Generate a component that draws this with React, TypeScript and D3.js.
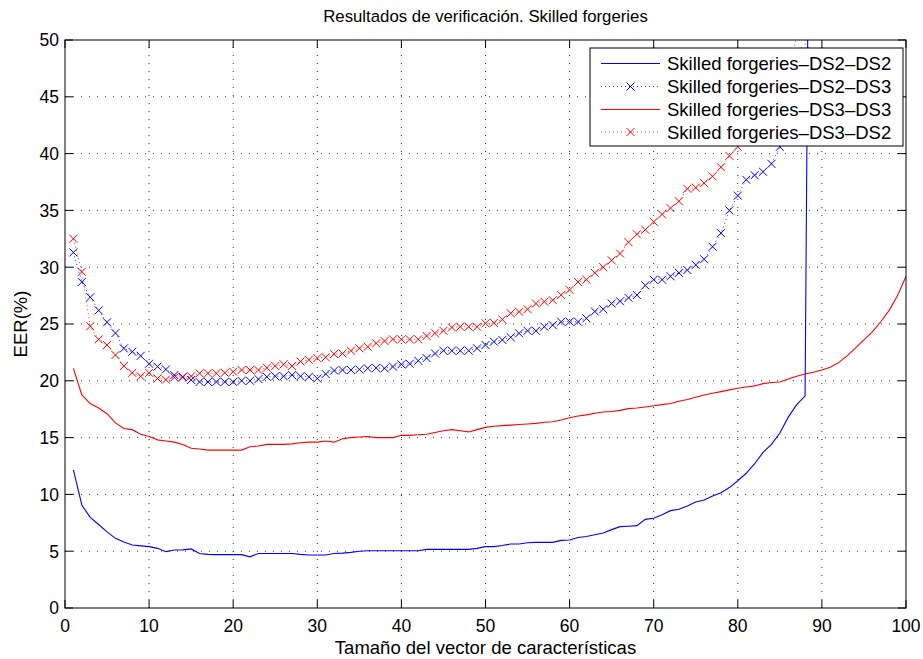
import React from 'react';
import * as d3 from 'd3';

const title = 'Resultados de verificación. Skilled forgeries';
const xLabel = 'Tamaño del vector de características';
const yLabel = 'EER(%)';
const xTicks = [0, 10, 20, 30, 40, 50, 60, 70, 80, 90, 100];
const yTicks = [0, 5, 10, 15, 20, 25, 30, 35, 40, 45, 50];
const seriesNames = [
  'Skilled forgeries\u2013DS2\u2013DS2',
  'Skilled forgeries\u2013DS2\u2013DS3',
  'Skilled forgeries\u2013DS3\u2013DS3',
  'Skilled forgeries\u2013DS3\u2013DS2',
];

// value for vector size 1, 2, 3, ...
const ds2ds2 = [
  12.15, 9.07, 7.98, 7.35, 6.7, 6.13, 5.8, 5.55, 5.47, 5.4,
  5.25, 4.96, 5.1, 5.12, 5.2, 4.8, 4.72, 4.7, 4.7, 4.7,
  4.7, 4.5, 4.8, 4.8, 4.8, 4.8, 4.8, 4.72, 4.66, 4.66,
  4.66, 4.8, 4.83, 4.9, 5.0, 5.04, 5.04, 5.04, 5.04, 5.04,
  5.04, 5.04, 5.16, 5.16, 5.16, 5.16, 5.16, 5.16, 5.25, 5.4,
  5.4, 5.5, 5.63, 5.63, 5.75, 5.78, 5.78, 5.78, 5.95, 5.98,
  6.2, 6.3, 6.45, 6.6, 6.9, 7.16, 7.2, 7.25, 7.8, 7.9,
  8.2, 8.57, 8.7, 8.98, 9.33, 9.5, 9.86, 10.15, 10.6, 11.2,
  11.86, 12.7, 13.7, 14.4, 15.4, 16.8, 17.9, 18.66, 120,
];

const ds2ds3 = [
  31.3, 28.7, 27.35, 26.2, 25.15, 24.2, 22.85, 22.56, 22.2, 21.5,
  21.25, 21.0, 20.5, 20.35, 20.07, 19.9, 19.9, 19.9, 19.9, 19.9,
  20.0, 20.0, 20.15, 20.35, 20.4, 20.4, 20.5, 20.4, 20.35, 20.2,
  20.6, 20.9, 20.95, 20.95, 21.0, 21.1, 21.13, 21.1, 21.25, 21.45,
  21.5, 21.77, 22.0, 22.4, 22.65, 22.65, 22.65, 22.65, 22.86, 23.15,
  23.44, 23.6, 23.83, 24.18, 24.4, 24.4, 24.76, 24.9, 25.2, 25.2,
  25.2, 25.5, 26.1, 26.3, 26.8, 27.0, 27.3, 27.55, 28.4, 28.9,
  28.9, 29.2, 29.5, 29.75, 30.2, 30.7, 31.8, 33.0, 35.0, 36.3,
  37.7, 38.1, 38.4, 39.1, 40.6, 42.5, 45.5, 49.0, 120,
];

const ds3ds3 = [
  21.1, 18.75, 18.0, 17.6, 17.1, 16.3, 15.8, 15.7, 15.3, 15.1,
  14.8, 14.7, 14.6, 14.4, 14.06, 14.0, 13.9, 13.9, 13.9, 13.9,
  13.9, 14.2, 14.26, 14.4, 14.4, 14.4, 14.45, 14.55, 14.6, 14.6,
  14.7, 14.6, 14.9, 15.0, 15.05, 15.1, 15.0, 15.0, 15.0, 15.2,
  15.2, 15.25, 15.3, 15.45, 15.6, 15.7, 15.6, 15.5, 15.7, 15.9,
  16.0, 16.05, 16.1, 16.15, 16.2, 16.25, 16.35, 16.4, 16.55, 16.75,
  16.9, 17.0, 17.15, 17.25, 17.3, 17.4, 17.55, 17.6, 17.7, 17.8,
  17.9, 18.0, 18.2, 18.35, 18.55, 18.75, 18.9, 19.05, 19.2, 19.35,
  19.45, 19.55, 19.75, 19.85, 19.9, 20.15, 20.4, 20.6, 20.75, 20.95,
  21.2, 21.6, 22.2, 22.9, 23.6, 24.3, 25.2, 26.2, 27.5, 29.2,
];

const ds3ds2 = [
  32.5, 29.6, 24.8, 23.65, 23.15, 22.27, 21.3, 20.7, 20.4, 20.7,
  20.2, 20.1, 20.3, 20.3, 20.4, 20.66, 20.66, 20.66, 20.7, 20.8,
  20.95, 20.95, 20.95, 21.15, 21.3, 21.45, 21.3, 21.7, 21.85, 22.0,
  22.07, 22.36, 22.4, 22.65, 22.86, 23.0, 23.3, 23.5, 23.65, 23.65,
  23.65, 23.65, 23.94, 24.18, 24.4, 24.7, 24.76, 24.76, 24.76, 25.06,
  25.1, 25.4, 25.94, 26.08, 26.3, 26.8, 26.96, 27.1, 27.55, 28.0,
  28.7, 28.9, 29.5, 30.0, 30.6, 31.2, 32.2, 32.9, 33.3, 34.0,
  34.65, 35.2, 35.8, 36.9, 37.0, 37.4, 38.0, 38.8, 39.8, 40.6,
  41.8, 43.0, 44.2, 45.3, 46.4, 47.5, 50.3,
];

const FONT = '"Liberation Sans", Arial, Helvetica, sans-serif';
const BLUE = '#0000ff';
const RED = '#ff0000';
const CROSS = 'M-4,-4L4,4M-4,4L4,-4';

export default function App() {
  const L = 65, R = 906, T = 40, B = 608;
  const x = d3.scaleLinear().domain([0, 100]).range([L, R]);
  const y = d3.scaleLinear().domain([0, 50]).range([B, T]);
  const line = d3.line<number>().x((_, i) => x(i + 1)).y(d => y(d));

  const series = [
    { data: ds2ds2, color: BLUE, marker: false },
    { data: ds2ds3, color: BLUE, marker: true },
    { data: ds3ds3, color: RED, marker: false },
    { data: ds3ds2, color: RED, marker: true },
  ];

  const tickLen = 8;
  const legX = 590, legY = 48, legW = 313, legH = 98;
  const rowY = [63.5, 86.5, 109.5, 132];

  return (
    <svg width={923} height={659} style={{ position: 'absolute', left: 0, top: 0, background: '#fff' }} fontFamily={FONT}>
      <defs>
        <clipPath id="plotclip">
          <rect x={L} y={T} width={R - L} height={B - T} />
        </clipPath>
      </defs>
      <rect x={0} y={0} width={923} height={659} fill="#fff" />
      {/* grid */}
      <g stroke="#333" strokeWidth={1} strokeDasharray="1,7">
        {xTicks.slice(1, -1).map(t => (
          <line key={'gx' + t} x1={x(t)} x2={x(t)} y1={B} y2={T} />
        ))}
        {yTicks.slice(1, -1).map(t => (
          <line key={'gy' + t} x1={L} x2={R} y1={y(t)} y2={y(t)} />
        ))}
      </g>
      {/* series */}
      <g clipPath="url(#plotclip)">
        {series.map((s, si) => (
          <g key={si}>
            <path
              d={line(s.data) || ''}
              fill="none"
              stroke={s.color}
              strokeWidth={s.marker ? 0.8 : 1.1}
              strokeDasharray={s.marker ? '1,3' : undefined}
            />
            {s.marker && s.data.map((v, i) => (
              v <= 50 ? (
                <path key={i} d={CROSS} transform={`translate(${x(i + 1)},${y(v)})`} stroke={s.color} strokeWidth={1} fill="none" />
              ) : null
            ))}
          </g>
        ))}
      </g>
      {/* axes box */}
      <rect x={L} y={T} width={R - L} height={B - T} fill="none" stroke="#000" strokeWidth={1} />
      {/* ticks */}
      <g stroke="#000" strokeWidth={1}>
        {xTicks.map(t => (
          <g key={'tx' + t}>
            <line x1={x(t)} x2={x(t)} y1={B} y2={B - tickLen} />
            <line x1={x(t)} x2={x(t)} y1={T} y2={T + tickLen} />
          </g>
        ))}
        {yTicks.map(t => (
          <g key={'ty' + t}>
            <line x1={L} x2={L + tickLen} y1={y(t)} y2={y(t)} />
            <line x1={R} x2={R - tickLen} y1={y(t)} y2={y(t)} />
          </g>
        ))}
      </g>
      <g fontSize={17.5} fill="#000">
        {xTicks.map(t => (
          <text key={'lx' + t} x={x(t)} y={632} textAnchor="middle">{t}</text>
        ))}
        {yTicks.map(t => (
          <text key={'ly' + t} x={59} y={y(t)} dy="0.36em" textAnchor="end">{t}</text>
        ))}
      </g>
      <text x={(L + R) / 2} y={22} textAnchor="middle" fontSize={16.8}>{title}</text>
      <text x={(L + R) / 2} y={654} textAnchor="middle" fontSize={18.5}>{xLabel}</text>
      <text transform={`translate(27,${(T + B) / 2}) rotate(-90)`} textAnchor="middle" fontSize={18.5}>{yLabel}</text>
      {/* legend */}
      <rect x={legX} y={legY} width={legW} height={legH} fill="#fff" stroke="#000" strokeWidth={1} />
      {series.map((s, si) => (
        <g key={'leg' + si}>
          <line
            x1={601} x2={660} y1={rowY[si]} y2={rowY[si]}
            stroke={s.color}
            strokeWidth={s.marker ? 0.8 : 1.1}
            strokeDasharray={s.marker ? '1,3' : undefined}
          />
          {s.marker && (
            <path d={CROSS} transform={`translate(630.5,${rowY[si]})`} stroke={s.color} strokeWidth={1} fill="none" />
          )}
          <text x={667} y={rowY[si]} dy="0.36em" fontSize={18.5}>{seriesNames[si]}</text>
        </g>
      ))}
    </svg>
  );
}
